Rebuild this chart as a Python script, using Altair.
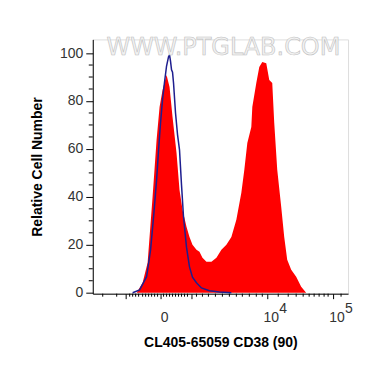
import altair as alt
import pandas as pd

# Red filled histogram (CD38 stained cells); x in display channel units
red_x = [44, 50, 55, 60, 64, 67, 70, 74, 77, 80, 84, 87, 90, 94, 97, 100, 104, 107,
         110, 114, 119, 124, 129, 134, 139, 144, 149, 152, 155, 159, 160, 164, 167,
         170, 174, 177, 180, 182, 185, 189, 192, 195, 199, 204, 209, 214]
red_y = [0, 4.2, 12.5, 40, 63.7, 77.5, 84.6, 90.8, 85.8, 73.3, 58.3, 42.9, 34.6, 27.5,
         23.3, 20, 17.9, 17.1, 14.6, 12.9, 12.9, 14.6, 17.9, 20, 23.3, 30.4, 41.7, 51.3,
         62.5, 69.2, 77.5, 87.5, 94.2, 96.3, 95.8, 88.8, 87.5, 70.8, 51.3, 35.8, 23.3,
         13.8, 9.6, 6.7, 2.5, 0]

# Blue isotype control line
blue_x = [40, 47, 54, 58, 61, 64, 66, 68, 70, 72, 74, 76, 77, 78, 79, 80, 81, 83, 85,
          87, 89, 91, 94, 97, 100, 104, 109, 117, 127, 139]
blue_y = [0, 1.2, 6.7, 18, 31.7, 47, 59.6, 71, 80.8, 88, 94.6, 98.5, 99.2, 96.5, 93,
          92, 87.5, 75, 66, 59.6, 45, 31.7, 19, 10.8, 6.5, 4.2, 2, 0.8, 0.3, 0]

# Axis ticks (display channel units for x)
x_major = [33, 68, 99, 175, 241]
x_minor = [10, 24, 37, 40, 43, 46, 50, 53, 56, 59, 62, 65, 71, 74, 77, 80, 83, 86, 89,
           92, 95, 104, 110, 116, 123, 130, 137, 144, 150, 157, 164, 170, 186, 196, 204,
           211, 217, 222, 227, 232, 236, 249]
x_label_at = [68, 175, 241]
x_label_base = ["0", "10", "10"]
x_label_exp = ["", "4", "5"]
y_major = [0, 20, 40, 60, 80, 100]
y_minor = [5, 10, 15, 25, 30, 35, 45, 50, 55, 65, 70, 75, 85, 90, 95]

FONT = "Liberation Sans"

xscale = alt.Scale(domain=[0, 256], nice=False, zero=False)
yscale = alt.Scale(domain=[-0.4, 105.7], nice=False, zero=False)

xaxis = alt.Axis(values=x_major, labels=False, tickSize=5, tickColor="black",
                 domainColor="black", grid=False, title="CL405-65059 CD38 (90)",
                 titleFont=FONT, titleFontSize=14, titleFontWeight="bold",
                 titleColor="black", titleY=53, titleBaseline="alphabetic")
yaxis = alt.Axis(values=y_major, tickSize=7, tickColor="black", domainColor="black",
                 grid=False, labelFont=FONT, labelFontSize=14, labelColor="#333",
                 labelPadding=3, title="Relative Cell Number", titleFont=FONT,
                 titleFontSize=14, titleFontWeight="bold", titleColor="black",
                 titleX=-51, titleBaseline="alphabetic")

X = alt.X("x:Q", scale=xscale, axis=xaxis)
Y = alt.Y("y:Q", scale=yscale, axis=yaxis)

red_df = pd.DataFrame({"x": red_x, "y": red_y})
blue_df = pd.DataFrame({"x": blue_x, "y": blue_y})

area = alt.Chart(red_df).mark_area(color="#ff0000", interpolate="linear").encode(x=X, y=Y)
line = alt.Chart(blue_df).mark_line(color="#1e1e8f", strokeWidth=1.5).encode(x=X, y=Y)

xminor = alt.Chart(pd.DataFrame({"x": x_minor})).mark_rule(color="black").encode(
    x=X, y=alt.value(255), y2=alt.value(258))
yminor = alt.Chart(pd.DataFrame({"y": y_minor})).mark_rule(color="black").encode(
    y=Y, x=alt.value(-4), x2=alt.value(0))

lab_df = pd.DataFrame({"x": x_label_at, "base": x_label_base, "exp": x_label_exp})
lab_base = alt.Chart(lab_df).mark_text(align="center", baseline="alphabetic", font=FONT,
                                       fontSize=14, color="#333", dx=4).encode(
    x=X, y=alt.value(283), text="base:N")
lab_exp = alt.Chart(lab_df).mark_text(align="left", baseline="alphabetic", font=FONT,
                                      fontSize=14, color="#333", dx=12).encode(
    x=X, y=alt.value(274), text="exp:N")

wm = alt.Chart(pd.DataFrame({"t": ["WWW.PTGLAB.COM"]})).mark_text(
    font="DejaVu Sans", fontSize=24, fill="#f2f2f2", stroke="#c0c0c0", strokeWidth=0.6,
    align="center", baseline="middle").encode(
    x=alt.value(131), y=alt.value(9), text="t:N")

chart = alt.layer(area, line, xminor, yminor, lab_base, lab_exp, wm).properties(
    width=256, height=255,
    autosize=alt.AutoSizeParams(type="none"),
    padding={"left": 85, "top": 31, "right": 14, "bottom": 60},
).configure_view(stroke="black", strokeWidth=1).configure(background="white")

chart.save("out.html", embed_options={"renderer": "svg", "actions": False})
